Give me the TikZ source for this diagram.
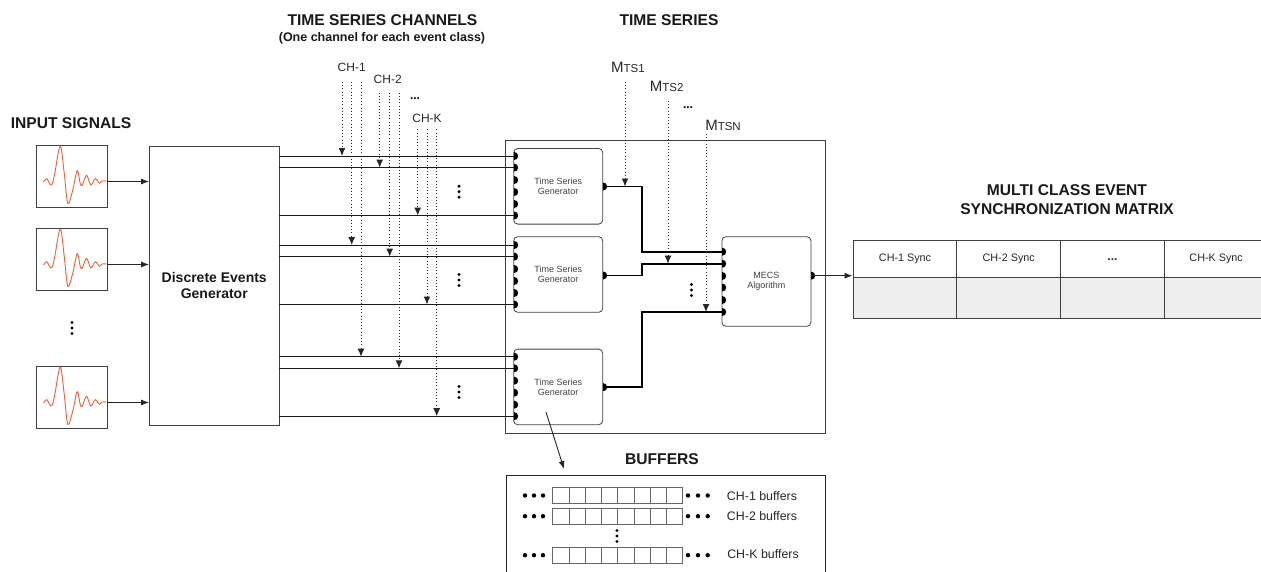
\documentclass[tikz,border=0pt]{standalone}
\usepackage{fontspec}
\setsansfont{Liberation Sans}
\usepackage{xcolor}
\usetikzlibrary{arrows.meta,shapes.geometric,matrix}
\definecolor{wavered}{HTML}{E8603C}
\definecolor{cellgray}{HTML}{EEEEEE}
\definecolor{boxgray}{HTML}{404040}
\newcommand{\mtslabel}[1]{{\fontsize{15}{16}\selectfont M}{\fontsize{11.5}{16}\selectfont TS#1}}
\tikzset{
    title/.style={font=\sffamily\bfseries\fontsize{15.6}{19}\selectfont,align=center,text=black!90},
    chlabel/.style={font=\sffamily\fontsize{12}{14}\selectfont,text=black!85},
    buflabel/.style={font=\sffamily\fontsize{12.4}{14}\selectfont,text=black!85},
    inbox/.style={draw=boxgray,line width=0.9pt,minimum width=70.5pt,minimum height=62pt,inner sep=0pt},
    genbox/.style={draw=boxgray,line width=0.8pt,rounded corners=4pt,minimum width=89pt,minimum height=75.6pt,
        inner sep=0pt,align=center,font=\sffamily\fontsize{9}{10}\selectfont,text=black!75},
    portin/.style={semicircle,fill=black,inner sep=0pt,minimum width=8pt,minimum height=4pt,
        rotate=-90,anchor=chord center},
    link/.style={draw=black!90,line width=0.9pt},
    thicklink/.style={draw=black,line width=1.6pt},
    thinarrow/.style={draw=black!85,line width=0.9pt,-{Latex[length=8pt,width=6pt]}},
    dotarrow/.style={draw=black!85,line width=1pt,dash pattern=on 1pt off 2.2pt,-{Latex[length=8pt,width=7pt]}},
    bufcell/.style={draw=black!60,line width=0.7pt},
    pics/wave/.style={code={
        \draw[wavered,line width=0.9pt] plot[smooth,tension=0.55] coordinates {(7,37) (10.3,33.7) (13,38.3) (15.3,39.7)
            (18,30) (23.7,1) (27.7,28) (31.3,58.3) (36.3,45) (40.7,25.7) (43.7,38.3) (45.7,40.3) (50,30.3)
            (54.3,40) (58.7,33.7) (63,38.3) (65.3,36) (70,36)};
    }}
}
\begin{document}
\begin{tikzpicture}[x=1pt,y=-1pt,font=\sffamily]
\useasboundingbox (0,0) rectangle (1261,571);

% titles
\node[title] (inputtitle) at (71,123) {INPUT SIGNALS};
\node[title] (chantitle) at (382.5,20.5) {TIME SERIES CHANNELS};
\node[font=\sffamily\bfseries\fontsize{12.5}{14}\selectfont,text=black!90] (chansub) at (382,38) {(One channel for each event class)};
\node[title] (seriestitle) at (669,20.5) {TIME SERIES};
\node[title] (matrixtitle) at (1067,200) {MULTI CLASS EVENT\\SYNCHRONIZATION MATRIX};
\node[title] (buffertitle) at (662,459) {BUFFERS};

% input signals and events generator
\node[draw=boxgray,line width=0.9pt,minimum width=129.5pt,minimum height=279pt,align=center,
    font=\sffamily\bfseries\fontsize{14}{16}\selectfont,text=black!90] (deg) at (214.25,285.5) {Discrete Events\\Generator};
\foreach \n/\y in {1/176,2/259,3/397}{
    \node[inbox] (inp\n) at (71.75,\y) {};
    \pic at (36.5,\y-31) {wave};
    \draw[thinarrow] (inp\n.east) ++(0,5.5) coordinate (inpout\n) -- (deg.west |- inpout\n);
}

% outer block
\node[draw=boxgray,line width=1pt,minimum width=319.5pt,minimum height=293pt,inner sep=0pt] (core) at (665.25,287) {};

% generators with their ports
\node[genbox] (gen1) at (558.2,186.3) {Time Series\\Generator};
\node[genbox] (gen2) at (558.2,274.5) {Time Series\\Generator};
\node[genbox] (gen3) at (558.2,386.9) {Time Series\\Generator};
\foreach \g/\y in {1/156,2/245,3/356.7}{
    \foreach \p/\d in {1/0,2/11.6,3/24,4/36,5/48,6/59.5}
        \node[portin] (g\g-\p) at (514,\y+\d) {};
    \node[portin] (gout\g) at (603,\y+30.5) {};
    \foreach \p in {1,2,6}
        \draw[link] (deg.east |- g\g-\p.chord center) -- (g\g-\p.chord center);
}

% channel arrows
\node[chlabel] (ch1) at (351.7,67.7) {CH-1};
\node[chlabel] (ch2) at (387.7,79) {CH-2};
\node[font=\sffamily\bfseries\fontsize{12}{14}\selectfont] (chdots) at (415,99) {...};
\node[chlabel] (chk) at (427,118) {CH-K};
\foreach \n/\x/\y/\g/\p in {a/342/82/1/1,b/351.7/82/2/1,c/361/82/3/1,
    d/379.7/92.7/1/2,e/389.7/92.7/2/2,f/399/92.7/3/2,
    h/417.7/129.3/1/6,i/427/129.3/2/6,j/436.7/129.3/3/6}{
    \coordinate (top\n) at (\x,\y);
    \draw[dotarrow] (top\n) -- (top\n |- g\g-\p.chord center);
}

% algorithm block
\node[genbox,minimum height=89.6pt] (mecs) at (766.4,281.5) {MECS\\Algorithm};
\foreach \p/\y in {1/251.7,2/263.7,3/276,4/287.5,5/300,6/312}
    \node[portin] (m-\p) at (722,\y) {};
\node[portin] (mout) at (811,275.7) {};
\coordinate (bend) at (641.7,0);
\draw[thicklink] (gout1.chord center) -- (bend |- gout1.chord center) |- (m-1.chord center);
\draw[thicklink] (gout2.chord center) -- (bend |- gout2.chord center) |- (m-2.chord center);
\draw[thicklink] (gout3.chord center) -- (bend |- gout3.chord center) |- (m-6.chord center);

% series arrows
\node[text=black!85] (mts1) at (628,67.7) {\mtslabel{1}};
\node[text=black!85] (mts2) at (666.7,86.7) {\mtslabel{2}};
\node[font=\sffamily\bfseries\fontsize{12}{14}\selectfont] (mtsdots) at (688,107.5) {...};
\node[text=black!85] (mtsn) at (723,125) {\mtslabel{N}};
\coordinate (mtop1) at (625,82);
\coordinate (mtop2) at (668,101);
\coordinate (mtopn) at (706,134);
\draw[dotarrow] (mtop1) -- (mtop1 |- gout1.chord center);
\draw[dotarrow] (mtop2) -- (mtop2 |- m-2.chord center);
\draw[dotarrow] (mtopn) -- (mtopn |- m-6.chord center);

% sync matrix
\matrix (tbl) [matrix of nodes,nodes in empty cells,anchor=north west,inner sep=0pt,
    nodes={draw=black!75,line width=1pt,minimum width=103.7pt,anchor=center,inner sep=0pt,
        font=\sffamily\fontsize{10.8}{12}\selectfont,text=black!85},
    column sep=-1pt,row sep=-1pt,
    row 1/.style={nodes={minimum height=37pt}},
    row 2/.style={nodes={minimum height=41pt,fill=cellgray}}
] at (852.5,240) {
CH-1 Sync & CH-2 Sync & |[font=\sffamily\bfseries\fontsize{12}{12}\selectfont]| ... & CH-K Sync \\
 & & & \\
};
\draw[thinarrow] (mout.chord center) -- (mout.chord center -| tbl.west);

% buffers
\node[draw=black!85,line width=0.9pt,minimum width=319pt,minimum height=110pt,inner sep=0pt,anchor=north west] (buffers) at (506,475.3) {};
\coordinate (buftail) at (546,412);
\coordinate (bufhead) at (564,469);
\draw[thinarrow] (buftail) -- (bufhead);
\node[buflabel] (buf1) at (762,495.7) {CH-1 buffers};
\node[buflabel] (buf2) at (762,516) {CH-2 buffers};
\node[buflabel] (bufk) at (763,554) {CH-K buffers};
\foreach \y in {487.3,508,547}{
    \foreach \i in {0,...,7}
        \draw[bufcell] (552.7+\i*16.25,\y) rectangle ++(16.25,16.3);
    \foreach \x in {525,534,543,688,698,707.7}
        \fill (\x,\y+8.2) circle[radius=2.2pt];
}

% vertical dots
\foreach \x/\y in {72/328,459/191.7,459/280,459/392,691.5/290,617/536}
    \foreach \d in {-5.5,0,5.5}
        \fill (\x,\y+\d) circle[radius=1.7pt];
\end{tikzpicture}
\end{document}
